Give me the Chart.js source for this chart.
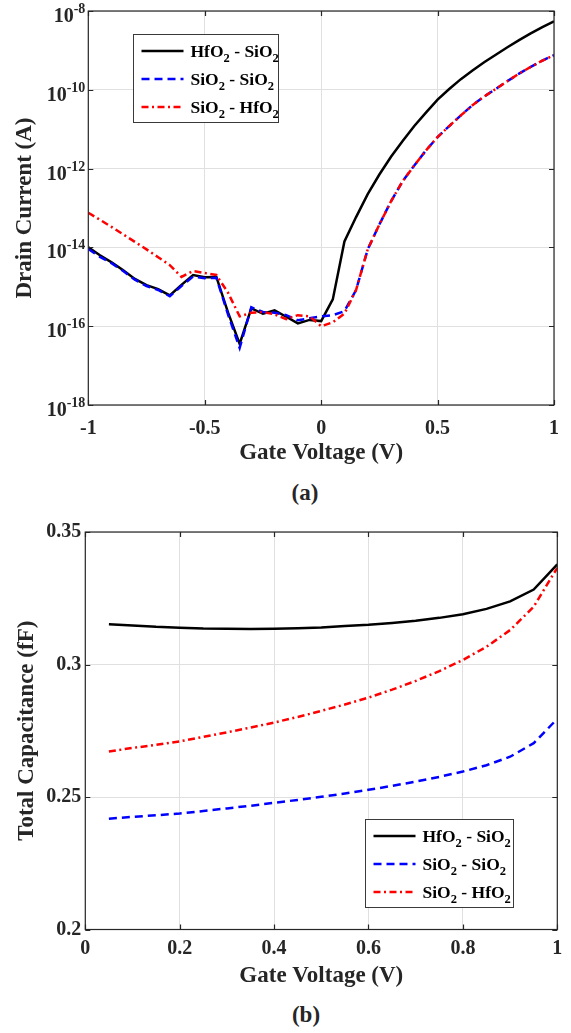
<!DOCTYPE html>
<html><head><meta charset="utf-8">
<script src="https://cdn.jsdelivr.net/npm/chart.js@4.4.1/dist/chart.umd.min.js"></script>
<style>
html,body{margin:0;padding:0;background:#fff;width:571px;height:1033px;overflow:hidden;}
#cA{position:absolute;left:0;top:0;}
#cB{position:absolute;left:0;top:500px;}
.cap{position:absolute;font:bold 23px "Liberation Serif";color:#262626;width:100px;text-align:center;line-height:26px;}
</style></head><body>
<canvas id="cA" width="571" height="470"></canvas>
<div class="cap" style="left:255px;top:480px">(a)</div>
<canvas id="cB" width="571" height="500"></canvas>
<div class="cap" style="left:256px;top:1002px">(b)</div>
<script>
// ---------- DATA ----------
const seriesNames = ['HfO2 - SiO2', 'SiO2 - SiO2', 'SiO2 - HfO2'];
const seriesColors = ['#000000', '#0000ff', '#ff0000'];

// (a) drain current vs gate voltage; values given as log10 of current (A)
const gateVoltageA = [-1,-0.95,-0.9,-0.85,-0.8,-0.75,-0.7,-0.65,-0.6,-0.55,-0.5,-0.45,-0.4,-0.35,-0.3,-0.25,-0.2,-0.15,-0.1,-0.05,0,0.05,0.1,0.15,0.2,0.25,0.3,0.35,0.4,0.45,0.5,0.55,0.6,0.65,0.7,0.75,0.8,0.85,0.9,0.95,1];
const logIdHfSi = [-14.00,-14.20,-14.38,-14.58,-14.80,-14.96,-15.06,-15.22,-14.95,-14.70,-14.76,-14.75,-15.65,-16.45,-15.55,-15.68,-15.60,-15.76,-15.93,-15.84,-15.87,-15.32,-13.85,-13.23,-12.65,-12.15,-11.70,-11.30,-10.92,-10.58,-10.25,-9.98,-9.73,-9.51,-9.30,-9.11,-8.92,-8.74,-8.57,-8.41,-8.26];
const logIdSiSi = [-14.04,-14.24,-14.40,-14.60,-14.82,-14.98,-15.08,-15.24,-14.98,-14.74,-14.78,-14.77,-15.70,-16.55,-15.52,-15.64,-15.66,-15.72,-15.85,-15.80,-15.75,-15.72,-15.62,-15.08,-14.05,-13.42,-12.83,-12.32,-11.92,-11.54,-11.20,-10.92,-10.65,-10.39,-10.17,-9.98,-9.78,-9.59,-9.42,-9.26,-9.12];
const logIdSiHf = [-13.12,-13.30,-13.48,-13.67,-13.86,-14.05,-14.25,-14.45,-14.75,-14.60,-14.65,-14.70,-15.15,-15.75,-15.66,-15.64,-15.70,-15.82,-15.72,-15.75,-16.00,-15.90,-15.68,-15.08,-14.05,-13.42,-12.83,-12.32,-11.92,-11.54,-11.20,-10.92,-10.65,-10.39,-10.17,-9.98,-9.78,-9.59,-9.42,-9.26,-9.12];
const xTicksA = [-1,-0.5,0,0.5,1];
const xTickLabelsA = ['-1','-0.5','0','0.5','1'];
const yTickExpA = [-18,-16,-14,-12,-10,-8];

// (b) total capacitance vs gate voltage
const gateVoltageB = [0.05,0.1,0.15,0.2,0.25,0.3,0.35,0.4,0.45,0.5,0.55,0.6,0.65,0.7,0.75,0.8,0.85,0.9,0.95,1.0];
const capHfSi = [0.3152,0.3147,0.3142,0.3139,0.3136,0.3135,0.3134,0.3135,0.3137,0.3140,0.3145,0.3150,0.3157,0.3165,0.3176,0.3190,0.3210,0.3238,0.3283,0.3378];
const capSiSi = [0.2418,0.2425,0.2431,0.2438,0.2447,0.2457,0.2467,0.2478,0.2489,0.2501,0.2513,0.2527,0.2542,0.2558,0.2576,0.2596,0.2620,0.2652,0.2703,0.2795];
const capSiHf = [0.2672,0.2685,0.2697,0.2710,0.2727,0.2744,0.2762,0.2781,0.2802,0.2825,0.2849,0.2875,0.2905,0.2938,0.2975,0.3017,0.3067,0.3130,0.3218,0.3365];
const xTicksB = [0,0.2,0.4,0.6,0.8,1];
const xTickLabelsB = ['0','0.2','0.4','0.6','0.8','1'];
const yTicksB = [0.2,0.25,0.3,0.35];
const yTickLabelsB = ['0.2','0.25','0.3','0.35'];

// ---------- STYLE ----------
const FONT = '"Liberation Serif", "Times New Roman", serif';
const TXT = '#262626';
const GRID = '#e0e0e0';
const dashes = [[], [8, 5], [7, 3.5, 2, 3.5]];

function richText(ctx, str, x, y) {
  const parts = str.split(/(\d)/);
  for (const p of parts) {
    if (!p) continue;
    const sub = /^\d$/.test(p);
    ctx.font = sub ? 'bold 12.5px ' + FONT : 'bold 17.5px ' + FONT;
    ctx.fillText(p, x, sub ? y + 5 : y);
    x += ctx.measureText(p).width;
  }
  return x;
}

const framePlugin = {
  id: 'frame',
  afterDraw(chart, args, opts) {
    const {ctx, chartArea: a, scales} = chart;
    ctx.save();
    ctx.strokeStyle = TXT; ctx.lineWidth = 1.2;
    const L = 5;
    ctx.beginPath();
    scales.x.ticks.forEach(t => {
      const px = Math.round(scales.x.getPixelForValue(t.value)) + 0.5;
      ctx.moveTo(px, a.bottom); ctx.lineTo(px, a.bottom - L);
      ctx.moveTo(px, a.top); ctx.lineTo(px, a.top + L);
    });
    scales.y.ticks.forEach(t => {
      const py = Math.round(scales.y.getPixelForValue(t.value)) + 0.5;
      ctx.moveTo(a.left, py); ctx.lineTo(a.left + L, py);
      ctx.moveTo(a.right, py); ctx.lineTo(a.right - L, py);
    });
    ctx.stroke();
    ctx.strokeRect(a.left, a.top, a.right - a.left, a.bottom - a.top);

    // exponent tick labels for log axis
    if (opts.expLabels) {
      ctx.fillStyle = TXT; ctx.textAlign = 'right'; ctx.textBaseline = 'alphabetic';
      opts.expLabels.forEach(e => {
        const py = scales.y.getPixelForValue(Math.pow(10, e));
        ctx.font = 'bold 14px ' + FONT;
        const sup = String(e);
        const xr = a.left - 3;
        ctx.fillText(sup, xr, py + 2);
        const w = ctx.measureText(sup).width;
        ctx.font = 'bold 20px ' + FONT;
        ctx.fillText('10', xr - w, py + 11);
      });
    }

    // legend
    const lg = opts.legend;
    if (lg) {
      const bw = lg.w, bh = 88;
      let bx, by;
      if (lg.corner === 'tl') { bx = a.left + 44.5; by = a.top + 22.5; }
      else { bx = a.right - 44.5 - bw; by = a.bottom - 22.5 - bh; }
      bx = Math.round(bx) + 0.5; by = Math.round(by) + 0.5;
      ctx.fillStyle = '#fff'; ctx.fillRect(bx, by, bw, bh);
      ctx.strokeStyle = '#3a3a3a'; ctx.lineWidth = 1; ctx.strokeRect(bx, by, bw, bh);
      seriesNames.forEach((name, i) => {
        const ry = by + 16.5 + i * 28;
        ctx.strokeStyle = seriesColors[i]; ctx.lineWidth = 2.5; ctx.setLineDash(dashes[i]);
        ctx.beginPath(); ctx.moveTo(bx + 8, ry); ctx.lineTo(bx + 50, ry); ctx.stroke();
        ctx.setLineDash([]);
        ctx.fillStyle = '#000'; ctx.textAlign = 'left'; ctx.textBaseline = 'alphabetic';
        richText(ctx, name, bx + 57, ry + 6);
      });
    }
    ctx.restore();
  }
};

function makeDatasets(xs, ys) {
  return ys.map((arr, i) => ({
    label: seriesNames[i],
    data: xs.map((x, k) => ({x: x, y: arr[k]})),
    borderColor: seriesColors[i],
    borderWidth: 2.5,
    borderDash: dashes[i],
    pointRadius: 0,
    tension: 0,
    fill: false,
    order: 2 - i
  }));
}

function commonX(min, max, ticks, labels, pad, titlePadBottom, axisH) {
  return {
    type: 'linear', min: min, max: max,
    afterBuildTicks: s => { s.ticks = ticks.map(v => ({value: v})); },
    afterFit: s => { s.height = axisH; },
    ticks: { color: TXT, font: {family: FONT, size: 20, weight: 'bold'}, padding: pad, maxRotation: 0,
      callback: (v, i) => labels[i] },
    grid: { color: GRID, lineWidth: 1, drawTicks: false },
    border: { display: false },
    title: { display: true, text: 'Gate Voltage (V)', color: TXT,
      font: {family: FONT, size: 23, weight: 'bold'}, padding: {top: 0, bottom: titlePadBottom} }
  };
}

Chart.defaults.animation = false;

// ---------- CHART (a) ----------
const lnTen = v => Math.pow(10, v);
new Chart(document.getElementById('cA'), {
  type: 'line',
  data: { datasets: makeDatasets(gateVoltageA, [logIdHfSi.map(lnTen), logIdSiSi.map(lnTen), logIdSiHf.map(lnTen)]) },
  options: {
    responsive: false, devicePixelRatio: 1,
    layout: { padding: {top: 11, right: 16.7, left: 0, bottom: 0} },
    plugins: { legend: {display: false}, tooltip: {enabled: false},
      frame: { expLabels: yTickExpA, legend: {corner: 'tl', w: 145} } },
    scales: {
      x: commonX(-1, 1, xTicksA, xTickLabelsA, 12, 3.2, 65),
      y: {
        type: 'logarithmic', min: 1e-18, max: 1e-8,
        afterBuildTicks: s => { s.ticks = yTickExpA.map(e => ({value: Math.pow(10, e)})); },
        afterFit: s => { s.width = 88.3; },
        ticks: { display: false },
        grid: { color: GRID, lineWidth: 1, drawTicks: false },
        border: { display: false },
        title: { display: true, text: 'Drain Current (A)', color: TXT,
          font: {family: FONT, size: 23, weight: 'bold'}, padding: {top: 11.2, bottom: 0} }
      }
    }
  },
  plugins: [framePlugin]
});

// ---------- CHART (b) ----------
new Chart(document.getElementById('cB'), {
  type: 'line',
  data: { datasets: makeDatasets(gateVoltageB, [capHfSi, capSiSi, capSiHf]) },
  options: {
    responsive: false, devicePixelRatio: 1,
    layout: { padding: {top: 32, right: 13.7, left: 0, bottom: 0} },
    plugins: { legend: {display: false}, tooltip: {enabled: false},
      frame: { legend: {corner: 'br', w: 148} } },
    scales: {
      x: commonX(0, 1, xTicksB, xTickLabelsB, 7, 9.7, 70.5),
      y: {
        type: 'linear', min: 0.2, max: 0.35,
        afterBuildTicks: s => { s.ticks = yTicksB.map(v => ({value: v})); },
        afterFit: s => { s.width = 85.3; },
        ticks: { color: TXT, font: {family: FONT, size: 20, weight: 'bold'}, padding: 4,
          callback: (v, i) => yTickLabelsB[i] },
        grid: { color: GRID, lineWidth: 1, drawTicks: false },
        border: { display: false },
        title: { display: true, text: 'Total Capacitance (fF)', color: TXT,
          font: {family: FONT, size: 23, weight: 'bold'}, padding: {top: 13.7, bottom: 0} }
      }
    }
  },
  plugins: [framePlugin]
});
</script>
</body></html>
